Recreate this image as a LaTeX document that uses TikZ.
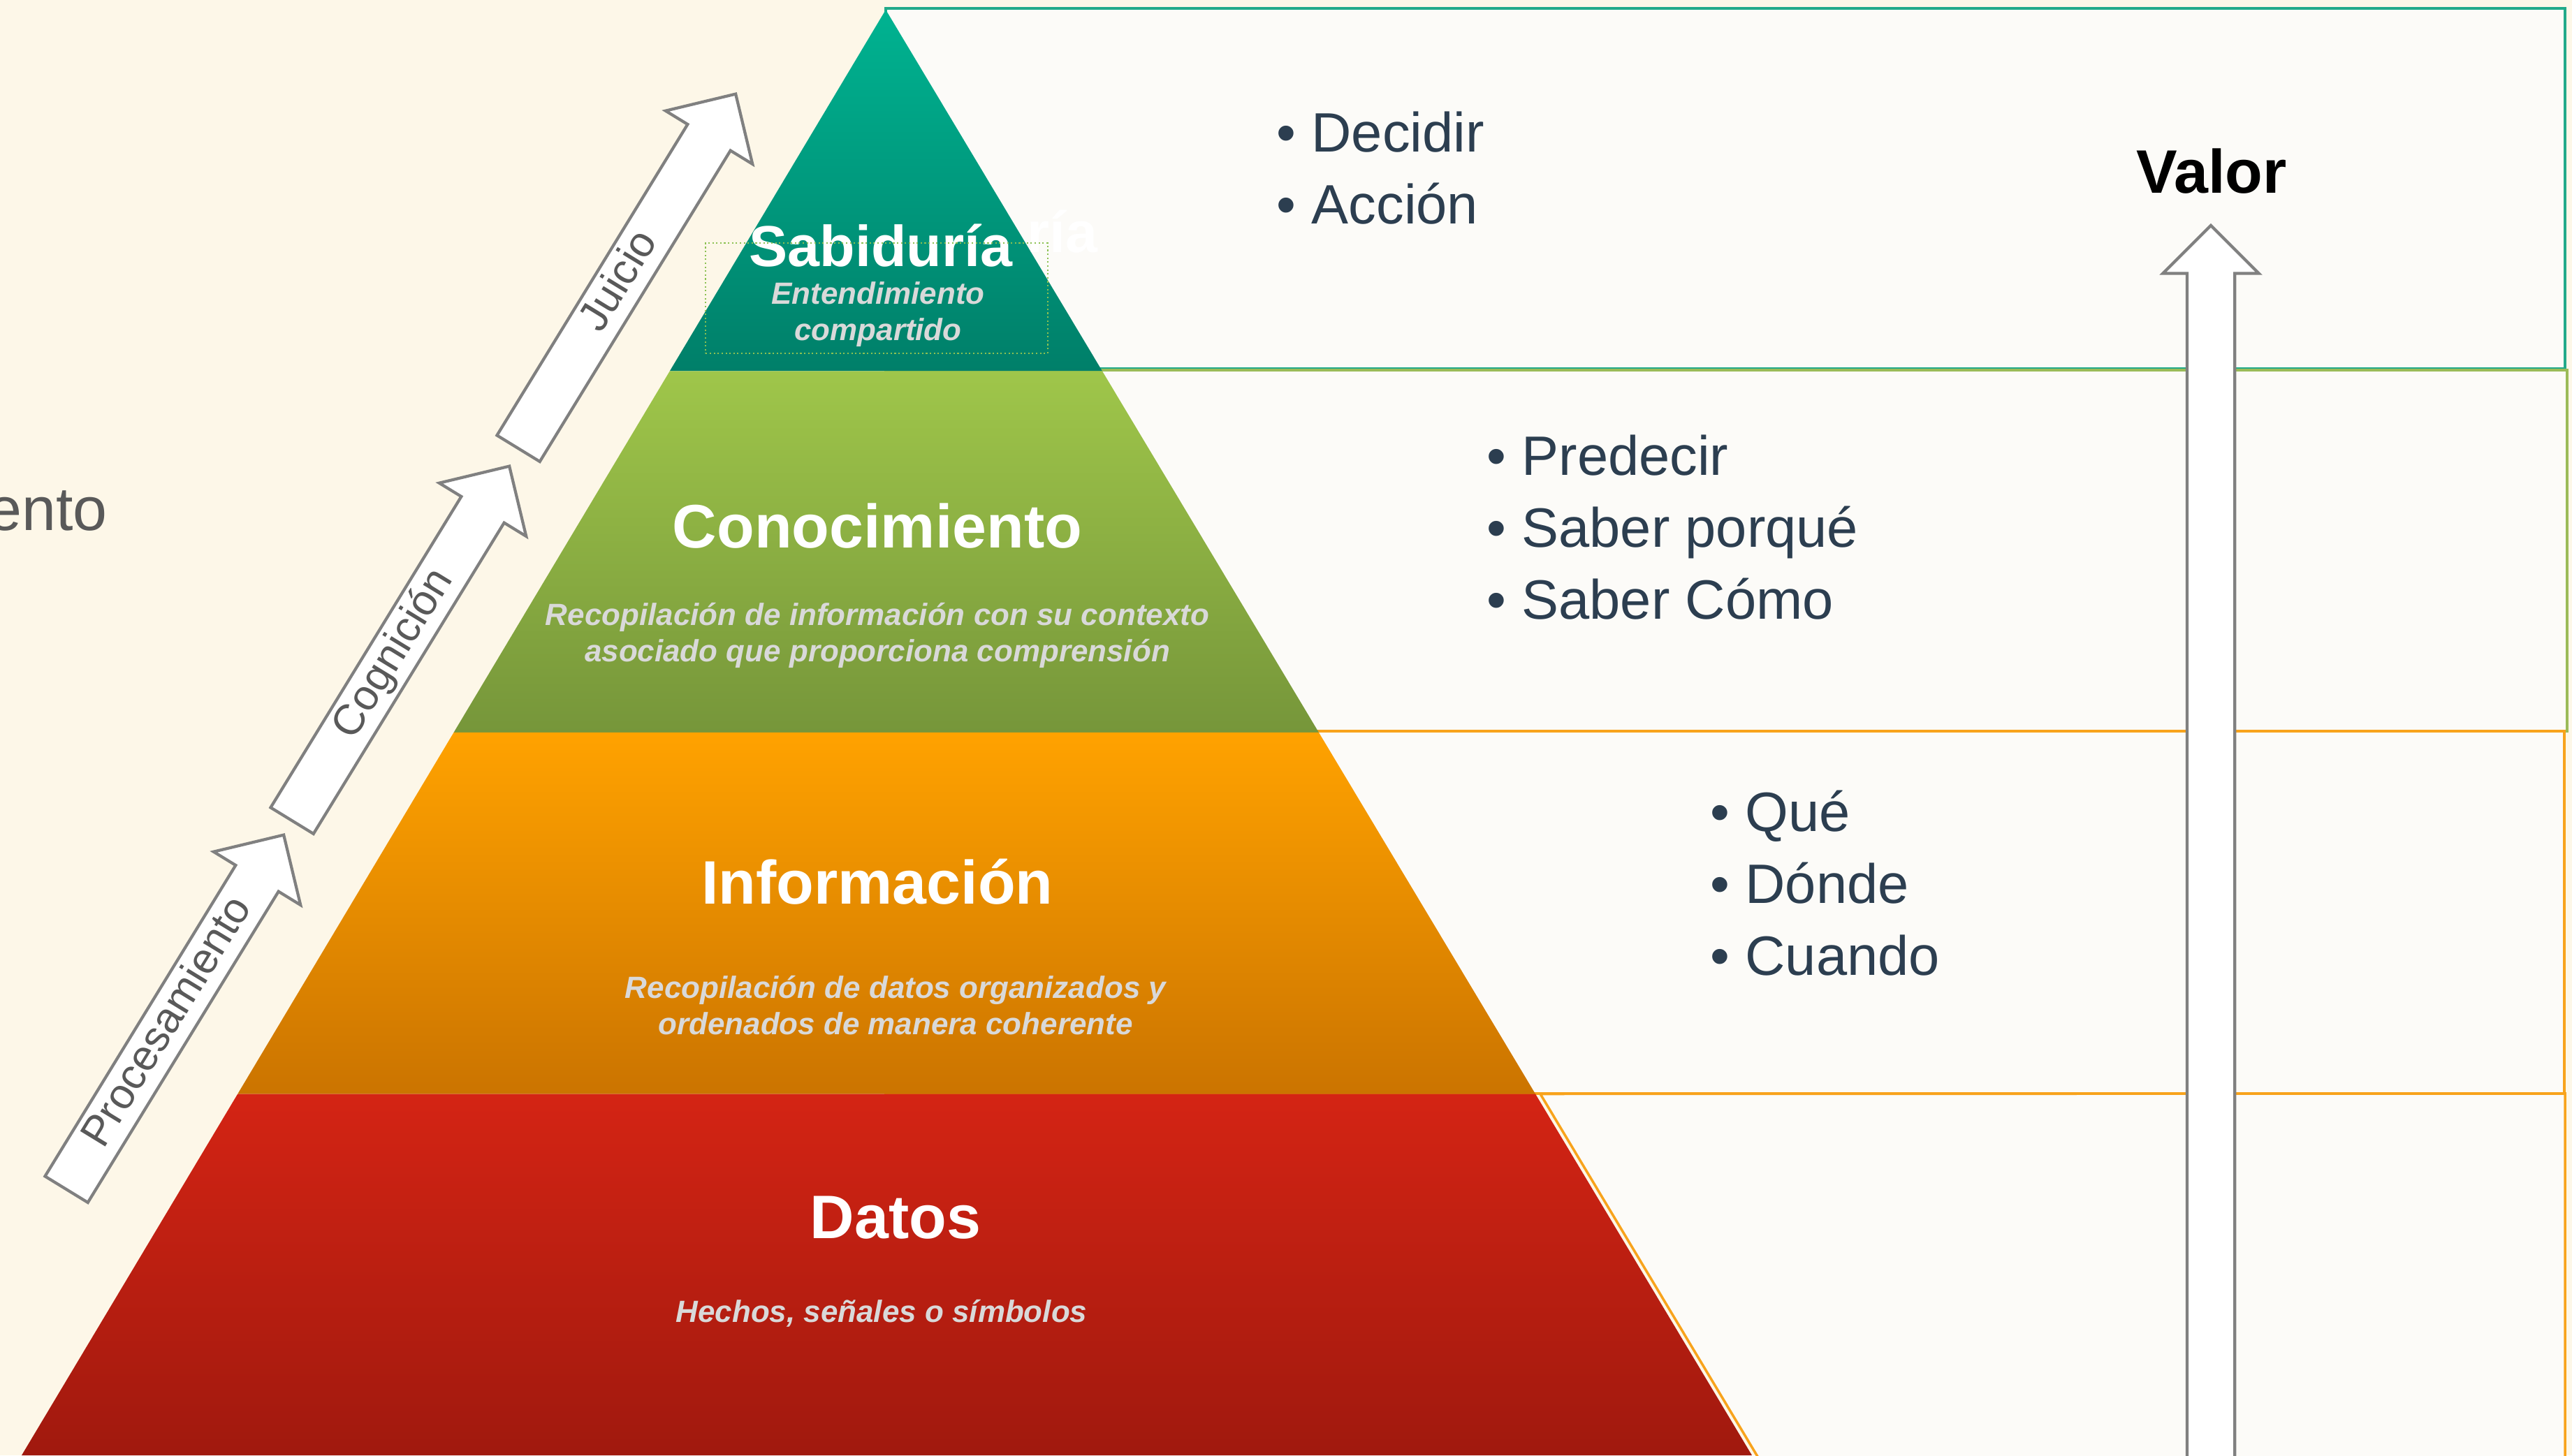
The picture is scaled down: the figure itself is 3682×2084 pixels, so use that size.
\documentclass[tikz,border=0pt]{standalone}
\usepackage{fontspec}
\setmainfont{Liberation Sans}
\usepackage{xcolor}
\usepackage{tikz}
\usetikzlibrary{shapes.arrows, positioning, calc}

\definecolor{cream}{HTML}{FDF7E8}
\definecolor{panelfill}{HTML}{FCFBF8}
\definecolor{tealtop}{HTML}{00B391}
\definecolor{tealbot}{HTML}{007F69}
\definecolor{greentop}{HTML}{9FC64A}
\definecolor{greenbot}{HTML}{76963A}
\definecolor{orangetop}{HTML}{FFA200}
\definecolor{orangebot}{HTML}{CB7400}
\definecolor{redtop}{HTML}{D42414}
\definecolor{redbot}{HTML}{A0190E}
\definecolor{tealline}{HTML}{22AA8A}
\definecolor{greenline}{HTML}{9BBB59}
\definecolor{orangeline}{HTML}{F8A31C}
\definecolor{slate}{HTML}{2C3E50}
\definecolor{subgray}{HTML}{D9D9D9}
\definecolor{arrowgray}{HTML}{808080}
\definecolor{textgray}{HTML}{595959}
\definecolor{dotgreen}{HTML}{8CC152}

\begin{document}
\begin{tikzpicture}[
   x=0.01cm, y=0.01cm,
   heading/.style = {font=\fontsize{25}{30}\selectfont\bfseries, text=white, anchor=base, inner sep=0pt},
   subtext/.style = {font=\fontsize{12.5}{14.8}\selectfont\bfseries\itshape, text=subgray, align=center, inner sep=0pt},
   bullets/.style = {font=\fontsize{22.6}{29.3}\selectfont, text=slate, align=left, anchor=north west, inner sep=0pt},
   panel/.style = {fill=panelfill, line width=1pt},
   steparrow/.style = {single arrow, draw=arrowgray, fill=white, line width=1.2pt, single arrow head extend=0.37cm, minimum width=1.42cm, minimum height=5.95cm, text height=12.7pt, text depth=3.7pt, inner xsep=0pt, inner ysep=0.05cm, anchor=tail, rotate=58.5, font=\fontsize{17.4}{20}\selectfont, text=textgray},
   valuearrow/.style = {single arrow, draw=arrowgray, fill=white, line width=1.2pt, single arrow head extend=0.345cm, minimum width=1.33cm, minimum height=17.88cm, inner xsep=0pt, inner ysep=0.32cm, anchor=tail, rotate=90}
   ]
  % Background
  \useasboundingbox (0,0) rectangle (3682,2084);
  \clip (0,0) rectangle (3682,2084);
  \fill[cream] (0,0) rectangle (3682,2084);

  % Title cut at the left edge
  \node[anchor=base west, font=\fontsize{25}{30}\selectfont, text=textgray, inner sep=0pt] (title) at (-18,1324) {ento};

  % Pyramid corners
  \coordinate (apex) at (1268,2070);
  \coordinate (bl) at (31,0);
  \coordinate (br) at (2508,0);

  % Panels behind the pyramid
  \draw[panel, draw=tealline] (1268,1556) rectangle (3672,2072);
  \draw[panel, draw=greenline] (1268,1037) rectangle (3675,1554);
  \draw[panel, draw=orangeline] (1268,518) rectangle (3671,1037);
  \draw[panel, draw=orangeline] ($(apex)!.75!(br)+(7,0)$) -- (3672,518) -- (3672,-30) -- ($(apex)!1.0145!(br)+(7,0)$) -- cycle;

  % Pyramid levels
  \shade[top color=tealtop, bottom color=tealbot] (apex) -- ($(apex)!.25!(br)$) -- ($(apex)!.25!(bl)$) -- cycle;
  \shade[top color=greentop, bottom color=greenbot] ($(apex)!.25!(bl)$) -- ($(apex)!.25!(br)$) -- ($(apex)!.5!(br)$) -- ($(apex)!.5!(bl)$) -- cycle;
  \shade[top color=orangetop, bottom color=orangebot] ($(apex)!.5!(bl)$) -- ($(apex)!.5!(br)$) -- ($(apex)!.75!(br)$) -- ($(apex)!.75!(bl)$) -- cycle;
  \shade[top color=redtop, bottom color=redbot] ($(apex)!.75!(bl)$) -- ($(apex)!.75!(br)$) -- (br) -- (bl) -- cycle;

  % Level labels
  \node[heading, font=\fontsize{23.5}{28}\selectfont\bfseries] (wisdom) at (1261,1702) {Sabiduría};
  \node[heading, font=\fontsize{23.5}{28}\selectfont\bfseries, anchor=base west] (ghost) at (1470,1722) {ría};
  \node[subtext] (wisdomsub) at (1257,1634) {Entendimiento\\compartido};
  \node[draw=dotgreen, densely dotted, line width=0.6pt, minimum width=4.89cm, minimum height=1.58cm] (wisdombox) at (1255,1657) {};
  \node[heading] (knowledge) at (1256,1299) {Conocimiento};
  \node[subtext] (knowledgesub) at (1256,1174) {Recopilación de información con su contexto\\asociado que proporciona comprensión};
  \node[heading] (information) at (1256,790) {Información};
  \node[subtext] (informationsub) at (1282,644) {Recopilación de datos organizados y\\ordenados de manera coherente};
  \node[heading] (data) at (1282,311) {Datos};
  \node[subtext, anchor=base] (datasub) at (1262,191) {Hechos, señales o símbolos};

  % Lists on the right
  \node[bullets] (wisdomlist) at (1827,1925) {\textbullet\ Decidir\\\textbullet\ Acción};
  \node[bullets] (knowledgelist) at (2128,1462) {\textbullet\ Predecir\\\textbullet\ Saber porqué\\\textbullet\ Saber Cómo};
  \node[bullets] (informationlist) at (2448,953) {\textbullet\ Qué\\\textbullet\ Dónde\\\textbullet\ Cuando};

  % Value arrow
  \node[valuearrow] (valuearrow) at (3165,-30) {};
  \node[font=\fontsize{25}{30}\selectfont\bfseries, anchor=base, inner sep=0pt] (value) at (3166,1807) {Valor};

  % Process arrows
  \node[steparrow] (processing) at (94,379) {Procesamiento};
  \node[steparrow] (cognition) at (417,907) {Cognición};
  \node[steparrow] (judgement) at (741,1440) {Juicio};
\end{tikzpicture}
\end{document}
